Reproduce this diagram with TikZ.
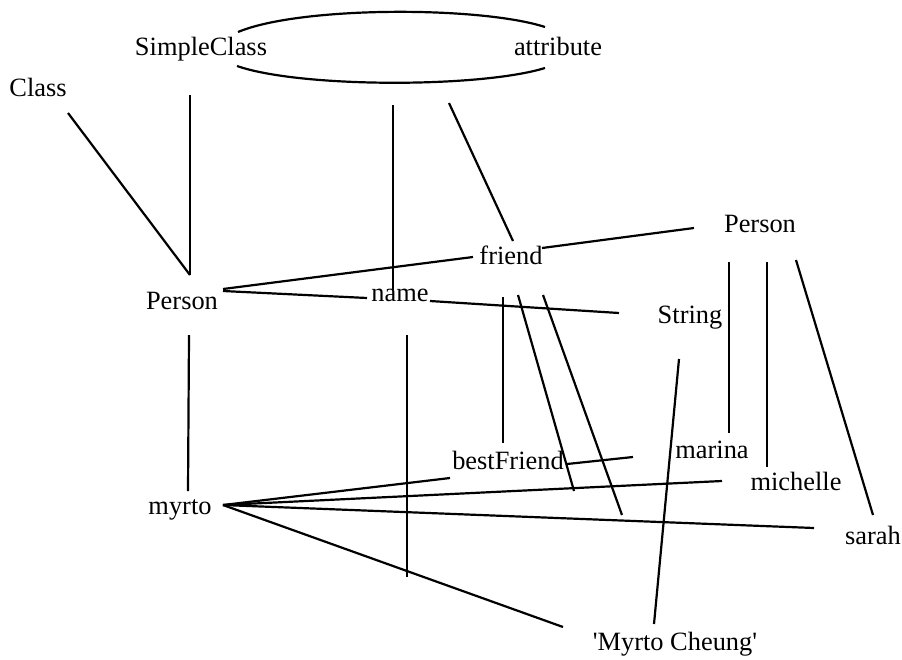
\documentclass[tikz,border=0pt]{standalone}
\usepackage{fontspec}
\setmainfont{Liberation Serif}
\begin{document}
\begin{tikzpicture}[x=1pt,y=-1pt,
  lbl/.style={anchor=base,inner sep=0pt,font=\fontsize{26.4}{30}\selectfont},
  edge/.style={line width=2.2pt,line cap=butt}]
\useasboundingbox (0,0) rectangle (902,659);

% labels (placed at text centre / baseline)
\node[lbl] (Class)       at (38,96)   {Class};
\node[lbl] (SimpleClass) at (201,55)  {SimpleClass};
\node[lbl] (attribute)   at (558,55)  {attribute};
\node[lbl] (PersonL)     at (182,309) {Person};
\node[lbl] (name)        at (400,301) {name};
\node[lbl] (friend)      at (511,264) {friend};
\node[lbl] (PersonR)     at (760,232) {Person};
\node[lbl] (String)      at (690,323) {String};
\node[lbl] (marina)      at (712,458) {marina};
\node[lbl] (bestFriend)  at (508,469) {bestFriend};
\node[lbl] (michelle)    at (796,490) {michelle};
\node[lbl] (sarah)       at (873,544) {sarah};
\node[lbl] (myrto)       at (180,514) {myrto};
\node[lbl] (Cheung)      at (675,650) {\textquotesingle Myrto Cheung\textquotesingle};

% free ends of the edges that hang off other edges
\coordinate (attrTop)   at (393,105);
\coordinate (friendTop) at (449,103);
\coordinate (nameLow)   at (407,577);
\coordinate (bfA)       at (574,491);
\coordinate (bfB)       at (622,515);

% SimpleClass <-> attribute loop
\draw[edge] ([shift={(37,-23)}]SimpleClass.base)
  .. controls +(62,-26) and +(-65,-21) .. ([shift={(-13,-28)}]attribute.base);
\draw[edge] ([shift={(-13,13)}]attribute.base)
  .. controls +(-65,20) and +(63,22) .. ([shift={(36,11)}]SimpleClass.base);

% class level
\draw[edge] ([shift={(30,17)}]Class.base) -- ([shift={(8,-34)}]PersonL.base);
\draw[edge] ([shift={(-11,40)}]SimpleClass.base) -- ([shift={(8,-34)}]PersonL.base);
\draw[edge] (attrTop) -- ([shift={(-7,-11)}]name.base);
\draw[edge] (friendTop) -- ([shift={(2,-23)}]friend.base);

% Person --friend--> Person
\draw[edge] ([shift={(41,-20)}]PersonL.base) -- ([shift={(-38,-7)}]friend.base);
\draw[edge] ([shift={(31,-16)}]friend.base) -- ([shift={(-66,-4)}]PersonR.base);

% Person --name--> String
\draw[edge] ([shift={(41,-18)}]PersonL.base) -- ([shift={(-33,-3)}]name.base);
\draw[edge] ([shift={(30,0)}]name.base) -- ([shift={(-71,-10)}]String.base);

% instance-of links from the edge labels
\draw[edge] ([shift={(7,34)}]name.base) -- (nameLow);
\draw[edge] ([shift={(-8,33)}]friend.base) -- ([shift={(-5,-26)}]bestFriend.base);
\draw[edge] ([shift={(7,31)}]friend.base) -- (bfA);
\draw[edge] ([shift={(32,31)}]friend.base) -- (bfB);

% Person -> instances
\draw[edge] ([shift={(7,26)}]PersonL.base) -- ([shift={(8,-23)}]myrto.base);
\draw[edge] ([shift={(-31,30)}]PersonR.base) -- ([shift={(17,-25)}]marina.base);
\draw[edge] ([shift={(7,30)}]PersonR.base) -- ([shift={(-29,-23)}]michelle.base);
\draw[edge] ([shift={(36,28)}]PersonR.base) -- ([shift={(0,-29)}]sarah.base);
\draw[edge] ([shift={(-11,36)}]String.base) -- ([shift={(-21,-26)}]Cheung.base);

% myrto's links
\draw[edge] ([shift={(43,-9)}]myrto.base) -- ([shift={(-58,9)}]bestFriend.base);
\draw[edge] ([shift={(59,-5)}]bestFriend.base) -- ([shift={(-79,-1)}]marina.base);
\draw[edge] ([shift={(43,-9)}]myrto.base) -- ([shift={(-74,-9)}]michelle.base);
\draw[edge] ([shift={(43,-9)}]myrto.base) -- ([shift={(-59,-16)}]sarah.base);
\draw[edge] ([shift={(43,-9)}]myrto.base) -- ([shift={(-112,-23)}]Cheung.base);
\end{tikzpicture}
\end{document}
